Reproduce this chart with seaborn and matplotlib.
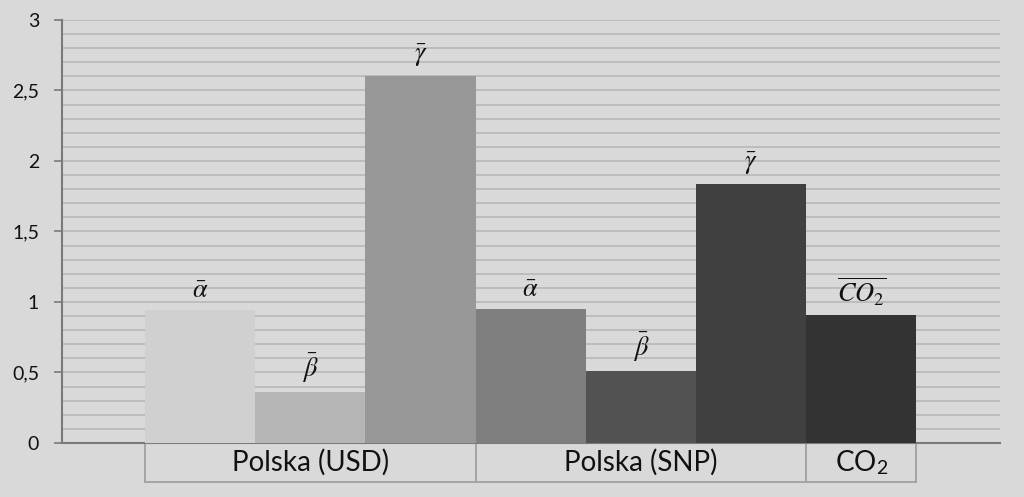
import matplotlib
matplotlib.use('Agg')
import matplotlib.pyplot as plt
import matplotlib.transforms as mtransforms
import numpy as np
import pandas as pd
import seaborn as sns

# bar data
bars = ['USD_a', 'USD_b', 'USD_g', 'SNP_a', 'SNP_b', 'SNP_g', 'CO2']
values = [0.94, 0.36, 2.60, 0.95, 0.51, 1.84, 0.91]
bar_labels = [r'$\bar{\alpha}$', r'$\bar{\beta}$', r'$\bar{\gamma}$',
              r'$\bar{\alpha}$', r'$\bar{\beta}$', r'$\bar{\gamma}$',
              r'$\overline{CO_2}$']
colors = ['#d0d0d0', '#b6b6b6', '#989898', '#7f7f7f', '#525252', '#404040', '#333333']

# groups under the axis: label, first bar, last bar
groups = ['Polska (USD)', 'Polska (SNP)', r'CO$_\mathregular{2}$']
group_spans = [(0, 2), (3, 5), (6, 6)]

y_ticks = [0, 0.5, 1, 1.5, 2, 2.5, 3]
y_ticklabels = ['0', '0,5', '1', '1,5', '2', '2,5', '3']

sns.set_style('white')
plt.rcParams['font.family'] = ['Lato', 'DejaVu Sans']
plt.rcParams['mathtext.fontset'] = 'stix'

bg = '#d9d9d9'
df = pd.DataFrame({'bar': bars, 'value': values})

fig, ax = plt.subplots(figsize=(10.24, 4.97), dpi=100)
fig.patch.set_facecolor(bg)
ax.set_facecolor(bg)
fig.subplots_adjust(left=0.0605, right=0.9766, top=0.9598, bottom=0.1087)

sns.barplot(data=df, x='bar', y='value', hue='bar', palette=colors,
            width=1.0, saturation=1, legend=False, linewidth=0, ax=ax, zorder=3)

ax.set_xlim(-1.255, 7.26)
ax.set_ylim(0, 3)
ax.set(xlabel='', ylabel='')

# gridlines every 0.1
ax.set_yticks(np.arange(0, 3.01, 0.1), minor=True)
ax.set_yticks(y_ticks)
ax.set_yticklabels(y_ticklabels, fontsize=14, color='#111111')
ax.grid(which='both', axis='y', color='#b5b5b5', lw=1.1, zorder=0)
ax.set_axisbelow(True)
ax.tick_params(axis='y', which='major', length=5.5, width=1.2,
               color='#7a7a7a', pad=11, direction='out', left=True)
ax.tick_params(axis='y', which='minor', length=0)
ax.tick_params(axis='x', bottom=False, labelbottom=False)

for side in ['top', 'right']:
    ax.spines[side].set_visible(False)
ax.spines['left'].set_color('#7a7a7a')
ax.spines['left'].set_linewidth(1.5)
ax.spines['bottom'].set_color('#7a7a7a')
ax.spines['bottom'].set_linewidth(1.5)

# labels above bars
for bar, lab in zip(ax.patches, bar_labels):
    ax.annotate(lab, (bar.get_x() + bar.get_width() / 2, bar.get_height()),
                xytext=(0, 5), textcoords='offset points',
                ha='center', va='bottom', fontsize=19, color='#111111')

# group boxes under the axis
trans = mtransforms.blended_transform_factory(ax.transData, ax.transAxes)
box_h = -0.092
box_col = '#a0a0a0'
edges = sorted({s - 0.5 for s, _ in group_spans} | {e + 0.5 for _, e in group_spans})
for x in edges:
    ax.plot([x, x], [0, box_h], transform=trans, color=box_col, lw=1.3, clip_on=False)
ax.plot([edges[0], edges[-1]], [box_h, box_h], transform=trans,
        color=box_col, lw=1.3, clip_on=False)
for name, (s, e) in zip(groups, group_spans):
    ax.text((s + e) / 2, box_h / 2, name, transform=trans, ha='center',
            va='center', fontsize=20, color='#111111')

fig.savefig('out.png', dpi=100, facecolor=bg)
